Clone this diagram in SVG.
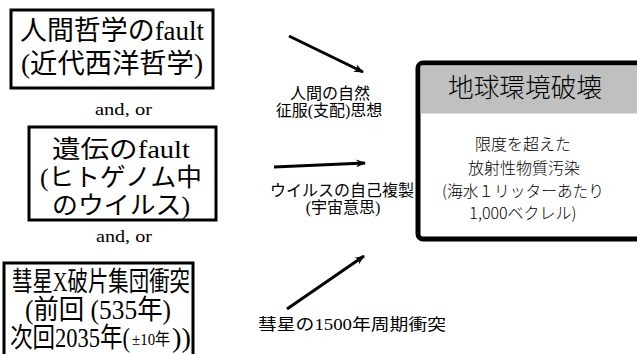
<svg xmlns="http://www.w3.org/2000/svg" width="637" height="354" viewBox="0 0 637 354">
<style>
.box{fill:#fff;stroke:#000;stroke-width:3}
.m{font-family:"Liberation Serif","Noto Sans CJK JP",serif;fill:#000}
.big{font-size:27px}
.lbl{font-size:16px;font-family:"Liberation Serif","Noto Sans CJK JP",serif;fill:#000}
.and{font-size:17px;font-family:"Liberation Serif",serif;fill:#000}
.g{font-family:"Noto Sans CJK JP","Liberation Sans",sans-serif;fill:#000;font-weight:300}
.conn{stroke:#000;stroke-width:3;fill:none}
</style>
<defs>
<marker id="ah" markerWidth="10" markerHeight="8" refX="9" refY="4" orient="auto" markerUnits="userSpaceOnUse" viewBox="0 0 10 8">
<path d="M0,0 L10,4 L0,8 L3,4 Z" fill="#000"/>
</marker>
</defs>
<rect width="637" height="354" fill="#fff"/>
<g id="node-human">
<rect class="box" x="11" y="10" width="202" height="78"/>
<text class="m big" x="112" y="40" text-anchor="middle" textLength="184" lengthAdjust="spacingAndGlyphs">人間哲学のfault</text>
<text class="m big" x="112" y="73" text-anchor="middle" textLength="182" lengthAdjust="spacingAndGlyphs">(近代西洋哲学)</text>
</g>
<text class="and" x="95" y="115" textLength="57" lengthAdjust="spacingAndGlyphs">and, or</text>
<g id="node-gene">
<rect class="box" x="29" y="127" width="187" height="93"/>
<text class="m" font-size="25" x="121" y="158" text-anchor="middle" textLength="138" lengthAdjust="spacingAndGlyphs">遺伝のfault</text>
<text class="m" font-size="25" x="121" y="186" text-anchor="middle" textLength="162" lengthAdjust="spacingAndGlyphs">(ヒトゲノム中</text>
<text class="m" font-size="25" x="121" y="214" text-anchor="middle" textLength="138" lengthAdjust="spacingAndGlyphs">のウイルス)</text>
</g>
<text class="and" x="96" y="242" textLength="56" lengthAdjust="spacingAndGlyphs">and, or</text>
<g id="node-comet">
<rect class="box" x="4" y="263" width="189" height="95"/>
<text class="m big" x="101" y="291" text-anchor="middle" textLength="178" lengthAdjust="spacingAndGlyphs">彗星X破片集団衝突</text>
<text class="m big" x="98" y="319" text-anchor="middle" textLength="146" lengthAdjust="spacingAndGlyphs">(前回 (535年)</text>
<text class="m" font-size="22" transform="translate(10,347) scale(1,1.22)" x="0" y="0" textLength="120" lengthAdjust="spacingAndGlyphs">次回2035年(</text>
<text class="m" font-size="15" transform="translate(132,345) scale(1,1.13)" x="0" y="0" textLength="38" lengthAdjust="spacingAndGlyphs">±10年</text>
<text class="m big" x="172" y="347" textLength="19" lengthAdjust="spacingAndGlyphs">))</text>
</g>
<g id="node-earth">
<rect x="418" y="63" width="230" height="176" rx="5" fill="#fff" stroke="#000" stroke-width="5"/>
<rect x="420.5" y="65.5" width="225" height="48" fill="#c0c0c0"/>
<text class="g" x="525" y="97" text-anchor="middle" font-size="26" textLength="154" lengthAdjust="spacingAndGlyphs">地球環境破壊</text>
<text class="g" x="523" y="150" text-anchor="middle" font-size="16">限度を超えた</text>
<text class="g" x="524" y="174" text-anchor="middle" font-size="16">放射性物質汚染</text>
<text class="g" x="523" y="197" text-anchor="middle" font-size="16" textLength="162" lengthAdjust="spacingAndGlyphs">(海水１リッターあたり</text>
<text class="g" x="523" y="219" text-anchor="middle" font-size="16">1,000ベクレル)</text>
</g>
<g id="connectors">
<line class="conn" x1="289" y1="36" x2="363" y2="72" marker-end="url(#ah)"/>
<line class="conn" x1="274" y1="167" x2="365" y2="163" marker-end="url(#ah)"/>
<line class="conn" x1="287" y1="309" x2="364" y2="256" marker-end="url(#ah)"/>
</g>
<g id="labels">
<text class="lbl" x="330" y="99" text-anchor="middle">人間の自然</text>
<text class="lbl" x="329" y="116" text-anchor="middle">征服(支配)思想</text>
<text class="lbl" x="342" y="196" text-anchor="middle" textLength="144" lengthAdjust="spacingAndGlyphs">ウイルスの自己複製</text>
<text class="lbl" x="343" y="213" text-anchor="middle">(宇宙意思)</text>
<text class="lbl" x="258" y="330" textLength="188" lengthAdjust="spacingAndGlyphs">彗星の1500年周期衝突</text>
</g>
</svg>
